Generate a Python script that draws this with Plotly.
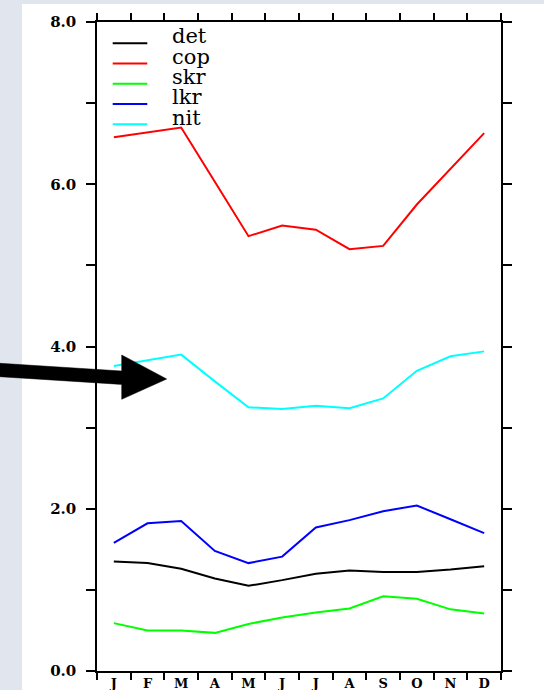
import plotly.graph_objects as go

# ---- data ----
months = ["Jan", "Feb", "Mar", "Apr", "May", "Jun", "Jul", "Aug", "Sep", "Oct", "Nov", "Dec"]
month_labels = ["J", "F", "M", "A", "M", "J", "J", "A", "S", "O", "N", "D"]
series_names = ["det", "cop", "skr", "lkr", "nit"]
det = [1.35, 1.33, 1.26, 1.14, 1.05, 1.12, 1.20, 1.24, 1.22, 1.22, 1.25, 1.29]
cop = [6.58, 6.64, 6.70, 6.03, 5.36, 5.49, 5.44, 5.20, 5.24, 5.75, 6.19, 6.63]
skr = [0.59, 0.50, 0.50, 0.47, 0.58, 0.66, 0.72, 0.77, 0.92, 0.89, 0.76, 0.71]
lkr = [1.58, 1.82, 1.85, 1.48, 1.33, 1.41, 1.77, 1.86, 1.97, 2.04, 1.87, 1.70]
nit = [3.76, 3.83, 3.90, 3.57, 3.25, 3.23, 3.27, 3.24, 3.36, 3.70, 3.88, 3.94]
y_tickvals = [0, 1, 2, 3, 4, 5, 6, 7, 8]
y_ticktext = ["0.0", "", "2.0", "", "4.0", "", "6.0", "", "8.0"]

colors = ["#000000", "#ff0000", "#00ff00", "#0000ff", "#00ffff"]
all_series = [det, cop, skr, lkr, nit]

W, H = 544, 690
ML, MR, MT, MB = 97, 43, 22, 19
PW = W - ML - MR
PH = H - MT - MB


def px(x):
    return (x - ML) / PW


def py(y):
    return (H - MB - y) / PH


fig = go.Figure()
for name, vals, c in zip(series_names, all_series, colors):
    fig.add_trace(go.Scatter(x=months, y=vals, mode="lines", name=name,
                             line=dict(color=c, width=2), showlegend=False))

shapes = []
annotations = []
# grey page strips (left and top)
gray = "#e0e5ee"
shapes.append(dict(type="rect", xref="paper", yref="paper", layer="below",
                   x0=px(-5), x1=px(22), y0=py(H + 5), y1=py(-5),
                   fillcolor=gray, line=dict(width=0)))
shapes.append(dict(type="rect", xref="paper", yref="paper", layer="below",
                   x0=px(-5), x1=px(W + 5), y0=py(4), y1=py(-5),
                   fillcolor=gray, line=dict(width=0)))

# manual legend
leg_y0 = 43.3
leg_dy = 20.25
for i, (name, c) in enumerate(zip(series_names, colors)):
    yy = leg_y0 + i * leg_dy
    shapes.append(dict(type="line", xref="paper", yref="paper",
                       x0=px(112.7), x1=px(147.3), y0=py(yy), y1=py(yy),
                       line=dict(color=c, width=2)))
    annotations.append(dict(xref="paper", yref="paper", x=px(170), y=py(yy - 6.8),
                            xanchor="left", yanchor="middle", showarrow=False,
                            text=name, font=dict(family="DejaVu Serif", size=21, color="black")))

# arrow
pts = [(0, 363.3), (121.7, 371.0), (121.7, 355.0), (166.7, 379.0),
       (121.7, 399.3), (121.7, 384.4), (0, 376.7)]
path = "M " + " L ".join(f"{px(a):.5f},{py(b):.5f}" for a, b in pts) + " Z"
shapes.append(dict(type="path", xref="paper", yref="paper", path=path,
                   fillcolor="black", line=dict(color="black", width=0.5)))

fig.update_layout(
    template="none",
    width=W, height=H,
    margin=dict(l=ML, r=MR, t=MT, b=MB, pad=0, autoexpand=False),
    paper_bgcolor="white",
    plot_bgcolor="white",
    shapes=shapes,
    annotations=annotations,
    showlegend=False,
)
fig.update_xaxes(
    type="category", tickvals=months, ticktext=month_labels, tickson="boundaries",
    range=[-0.5, 11.5], showgrid=False, zeroline=False, automargin=False,
    showline=True, linecolor="black", linewidth=1.5, mirror="ticks",
    ticks="outside", ticklen=7, tickwidth=1.5, tickcolor="black",
    tickfont=dict(family="DejaVu Serif", size=13, color="black", weight="bold"),
)
fig.update_yaxes(
    range=[0, 8], tickvals=y_tickvals, ticktext=y_ticktext,
    showgrid=False, zeroline=False, automargin=False,
    showline=True, linecolor="black", linewidth=1.5, mirror="ticks",
    ticks="outside", ticklen=9, tickwidth=1.5, tickcolor="black",
    ticklabelstandoff=7,
    tickfont=dict(family="DejaVu Serif", size=15, color="black", weight="bold"),
)

fig.write_html("out.html")
